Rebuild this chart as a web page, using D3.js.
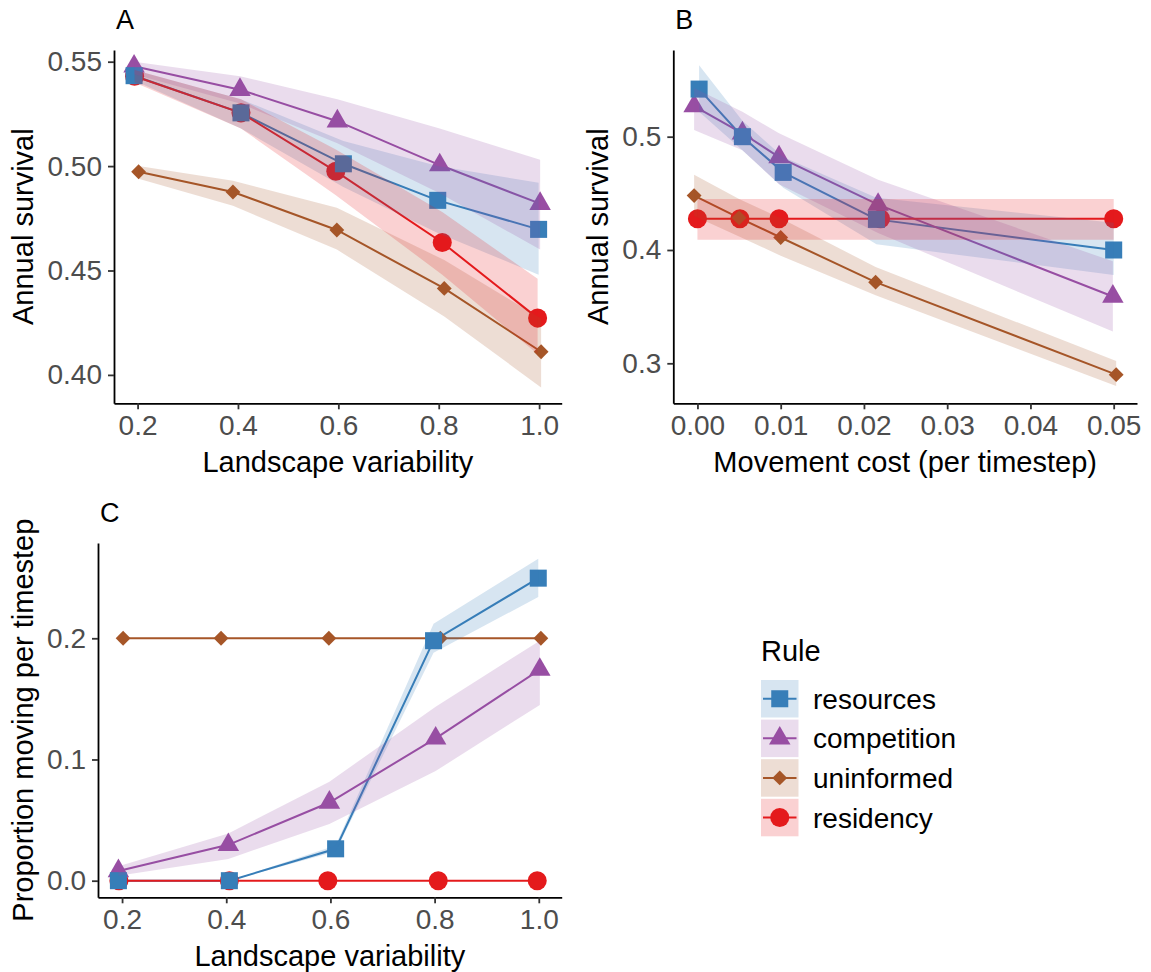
<!DOCTYPE html>
<html lang="en">
<head>
<meta charset="UTF-8">
<title>Survival and movement by rule</title>
<script src="https://cdn.jsdelivr.net/npm/d3@7"></script>
<style>
    body { margin: 0; background: #fff; }
    svg { font-family: "Liberation Sans", Arial, Helvetica, sans-serif; }
    .tick text { fill: #4d4d4d; font-size: 28px; }
    .tick line { stroke: #333; stroke-width: 1.8px; }
    .domain { stroke: #000; stroke-width: 1.8px; }
    .title { font-size: 29px; fill: #000; }
    .tag { font-size: 27px; fill: #000; }
</style>
</head>
<body>
<svg id="chart" width="1151" height="972"></svg>
<script>
// rules in legend order
const rules = ["resources", "competition", "uninformed", "residency"];
const ruleColors = ["#377EB8", "#984EA3", "#A65628", "#E41A1C"];
const ruleShapes = ["square", "triangle", "diamond", "circle"];

// landscape variability (x, slightly dodged per rule)
const varX_resources   = [0.193, 0.406, 0.610, 0.798, 0.999];
const varX_competition = [0.193, 0.404, 0.598, 0.802, 1.002];
const varX_uninformed  = [0.202, 0.390, 0.597, 0.811, 1.004];
const varX_residency   = [0.194, 0.406, 0.595, 0.807, 0.997];

// A: annual survival vs landscape variability (mean, lower, upper)
const survVar_resources   = [0.5433, 0.5255, 0.5011, 0.4836, 0.4697];
const survVarLo_resources = [0.541, 0.518, 0.490, 0.468, 0.448];
const survVarHi_resources = [0.546, 0.532, 0.512, 0.500, 0.492];
const survVar_competition   = [0.5478, 0.5366, 0.5215, 0.5005, 0.4820];
const survVarLo_competition = [0.544, 0.530, 0.511, 0.487, 0.460];
const survVarHi_competition = [0.550, 0.543, 0.532, 0.518, 0.503];
const survVar_uninformed   = [0.4973, 0.4876, 0.4694, 0.4414, 0.4111];
const survVarLo_uninformed = [0.494, 0.481, 0.460, 0.428, 0.394];
const survVarHi_uninformed = [0.500, 0.493, 0.480, 0.455, 0.427];
const survVar_residency   = [0.5430, 0.5255, 0.4975, 0.4634, 0.4272];
const survVarLo_residency = [0.540, 0.518, 0.486, 0.448, 0.410];
const survVarHi_residency = [0.546, 0.532, 0.508, 0.478, 0.446];

// B: annual survival vs movement cost
const costX_resources   = [0.0002, 0.0054, 0.0103, 0.0215, 0.0500];
const costX_competition = [-0.0004, 0.0054, 0.0098, 0.0217, 0.0499];
const costX_uninformed  = [-0.0004, 0.0050, 0.0100, 0.0214, 0.0503];
const costX_residency   = [0.0000, 0.0051, 0.0098, 0.0220, 0.0500];
const survCost_resources   = [0.542, 0.500, 0.4685, 0.427, 0.400];
const survCostLo_resources = [0.522, 0.488, 0.455, 0.405, 0.378];
const survCostHi_resources = [0.563, 0.514, 0.482, 0.446, 0.424];
const survCost_competition   = [0.527, 0.503, 0.482, 0.440, 0.359];
const survCostLo_competition = [0.506, 0.488, 0.458, 0.415, 0.328];
const survCostHi_competition = [0.543, 0.522, 0.503, 0.462, 0.390];
const survCost_uninformed   = [0.448, 0.4284, 0.411, 0.3716, 0.290];
const survCostLo_uninformed = [0.430, 0.412, 0.395, 0.360, 0.280];
const survCostHi_uninformed = [0.4665, 0.445, 0.428, 0.385, 0.302];
const survCost_residency   = [0.4275, 0.4275, 0.4275, 0.4275, 0.4275];
const survCostLo_residency = [0.409, 0.409, 0.409, 0.409, 0.409];
const survCostHi_residency = [0.445, 0.445, 0.445, 0.445, 0.445];

// C: proportion moving per timestep vs landscape variability
const move_resources   = [0, 0, 0.0263, 0.198, 0.2496];
const moveLo_resources = [0, 0, 0.024, 0.188, 0.234];
const moveHi_resources = [0, 0, 0.029, 0.212, 0.2656];
const move_competition   = [0.008, 0.0296, 0.0645, 0.1174, 0.1742];
const moveLo_competition = [0.004, 0.018, 0.0467, 0.0905, 0.145];
const moveHi_competition = [0.012, 0.039, 0.0817, 0.1435, 0.198];
const move_uninformed   = [0.2, 0.2, 0.2, 0.2, 0.2];
const moveLo_uninformed = [0.2, 0.2, 0.2, 0.2, 0.2];
const moveHi_uninformed = [0.2, 0.2, 0.2, 0.2, 0.2];
const move_residency   = [0, 0, 0, 0, 0];
const moveLo_residency = [0, 0, 0, 0, 0];
const moveHi_residency = [0, 0, 0, 0, 0];

// tick labels
const varTicks = [0.2, 0.4, 0.6, 0.8, 1.0];
const costTicks = [0, 0.01, 0.02, 0.03, 0.04, 0.05];
const survVarTicks = [0.40, 0.45, 0.50, 0.55];
const survCostTicks = [0.3, 0.4, 0.5];
const moveTicks = [0, 0.1, 0.2];

function zipSeries(xs, ys, lo, hi) {
    return xs.map((x, i) => ({ x: x, y: ys[i], lo: lo[i], hi: hi[i] }));
}

const svg = d3.select("#chart");

function symbolPath(shape) {
    if (shape === "square") return d3.symbol(d3.symbolSquare, 290)();
    if (shape === "triangle") return d3.symbol(d3.symbolTriangle, 200)();
    if (shape === "circle") return d3.symbol(d3.symbolCircle, 285)();
    return d3.symbol(d3.symbolSquare, 110)(); // diamond, rotated below
}

function drawMarker(g, shape, color, x, y) {
    g.append("path")
        .attr("d", symbolPath(shape))
        .attr("fill", color)
        .attr("transform", `translate(${x},${y})` + (shape === "diamond" ? " rotate(45)" : ""));
}

function drawPanel(p) {
    const x = d3.scaleLinear().domain(p.xDomain).range(p.xRange);
    const y = d3.scaleLinear().domain(p.yDomain).range(p.yRange);
    const g = svg.append("g");

    const line = d3.line().x(d => x(d.x)).y(d => y(d.y));
    const area = d3.area().x(d => x(d.x)).y0(d => y(d.lo)).y1(d => y(d.hi));

    // lines
    p.series.forEach((s, i) => {
        g.append("path").datum(s)
            .attr("d", line)
            .attr("fill", "none")
            .attr("stroke", ruleColors[i])
            .attr("stroke-width", 2);
    });
    // points, last rule first
    for (let i = p.series.length - 1; i >= 0; i--) {
        p.series[i].forEach(d => drawMarker(g, ruleShapes[i], ruleColors[i], x(d.x), y(d.y)));
    }
    // ribbons on top
    p.series.forEach((s, i) => {
        g.append("path").datum(s)
            .attr("d", area)
            .attr("fill", ruleColors[i])
            .attr("fill-opacity", 0.2);
    });

    // axes
    g.append("g")
        .attr("transform", `translate(0,${p.yRange[0]})`)
        .call(d3.axisBottom(x).tickValues(p.xTicks).tickFormat(d3.format(p.xFormat))
            .tickSize(6).tickSizeOuter(0).tickPadding(6));
    g.append("g")
        .attr("transform", `translate(${p.xRange[0]},0)`)
        .call(d3.axisLeft(y).tickValues(p.yTicks).tickFormat(d3.format(p.yFormat))
            .tickSize(6).tickSizeOuter(0).tickPadding(6));
    g.selectAll(".tick text").attr("font-size", null).attr("font-family", null);

    // titles
    g.append("text").attr("class", "title")
        .attr("x", (p.xRange[0] + p.xRange[1]) / 2)
        .attr("y", p.yRange[0] + 69)
        .attr("text-anchor", "middle")
        .text(p.xTitle);
    g.append("text").attr("class", "title")
        .attr("transform", `translate(${p.yTitleX},${(p.yRange[0] + p.yRange[1]) / 2}) rotate(-90)`)
        .attr("text-anchor", "middle")
        .text(p.yTitle);
    g.append("text").attr("class", "tag")
        .attr("x", p.xRange[0] + 2)
        .attr("y", p.yRange[1] - 21)
        .text(p.tag);
}

drawPanel({
    tag: "A",
    xDomain: [0.153, 1.045], xRange: [114, 561.7],
    yDomain: [0.3864, 0.5556], yRange: [403.3, 50],
    xTicks: varTicks, xFormat: ".1f", yTicks: survVarTicks, yFormat: ".2f",
    xTitle: "Landscape variability", yTitle: "Annual survival", yTitleX: 33,
    series: [
        zipSeries(varX_resources, survVar_resources, survVarLo_resources, survVarHi_resources),
        zipSeries(varX_competition, survVar_competition, survVarLo_competition, survVarHi_competition),
        zipSeries(varX_uninformed, survVar_uninformed, survVarLo_uninformed, survVarHi_uninformed),
        zipSeries(varX_residency, survVar_residency, survVarLo_residency, survVarHi_residency)
    ]
});

drawPanel({
    tag: "B",
    xDomain: [-0.0029, 0.0528], xRange: [673.3, 1137],
    yDomain: [0.2647, 0.5765], yRange: [403.3, 50],
    xTicks: costTicks, xFormat: ".2f", yTicks: survCostTicks, yFormat: ".1f",
    xTitle: "Movement cost (per timestep)", yTitle: "Annual survival", yTitleX: 608,
    series: [
        zipSeries(costX_resources, survCost_resources, survCostLo_resources, survCostHi_resources),
        zipSeries(costX_competition, survCost_competition, survCostLo_competition, survCostHi_competition),
        zipSeries(costX_uninformed, survCost_uninformed, survCostLo_uninformed, survCostHi_uninformed),
        zipSeries(costX_residency, survCost_residency, survCostLo_residency, survCostHi_residency)
    ]
});

drawPanel({
    tag: "C",
    xDomain: [0.1538, 1.044], xRange: [98, 561.7],
    yDomain: [-0.0137, 0.2786], yRange: [897.3, 543],
    xTicks: varTicks, xFormat: ".1f", yTicks: moveTicks, yFormat: ".1f",
    xTitle: "Landscape variability", yTitle: "Proportion moving per timestep", yTitleX: 32.6,
    series: [
        zipSeries(varX_resources, move_resources, moveLo_resources, moveHi_resources),
        zipSeries(varX_competition, move_competition, moveLo_competition, moveHi_competition),
        zipSeries(varX_uninformed, move_uninformed, moveLo_uninformed, moveHi_uninformed),
        zipSeries(varX_residency, move_residency, moveLo_residency, moveHi_residency)
    ]
});

// legend
const legend = svg.append("g").attr("transform", "translate(761,0)");
legend.append("text").attr("class", "title").attr("font-size", 28)
    .attr("x", 0).attr("y", 661).text("Rule");
const keySize = 37.5;
rules.forEach((r, i) => {
    const top = 680 + i * 39.6;
    const cy = top + keySize / 2;
    const k = legend.append("g");
    k.append("rect")
        .attr("x", 0).attr("y", top)
        .attr("width", keySize).attr("height", keySize)
        .attr("fill", ruleColors[i]).attr("fill-opacity", 0.2);
    k.append("line")
        .attr("x1", 2).attr("x2", keySize - 2)
        .attr("y1", cy).attr("y2", cy)
        .attr("stroke", ruleColors[i]).attr("stroke-width", 2);
    drawMarker(k, ruleShapes[i], ruleColors[i], keySize / 2, cy);
    k.append("text")
        .attr("x", 52).attr("y", cy + 10)
        .attr("font-size", 28)
        .attr("fill", "#000")
        .text(r);
});
</script>
</body>
</html>
